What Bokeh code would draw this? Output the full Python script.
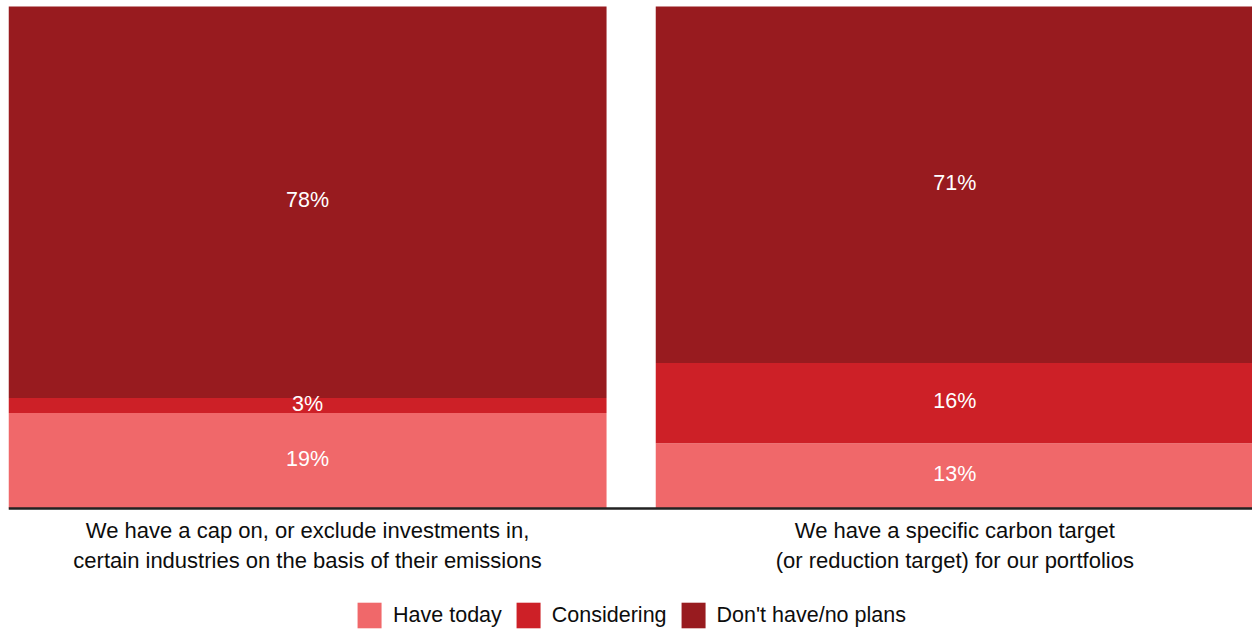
from bokeh.plotting import figure
from bokeh.models import ColumnDataSource, Range1d, Legend, LegendItem, Span
from bokeh.core.properties import value
from bokeh.embed import file_html
from bokeh.resources import INLINE

categories = [
    "We have a cap on, or exclude investments in,\ncertain industries on the basis of their emissions",
    "We have a specific carbon target\n(or reduction target) for our portfolios",
]
series_names = ["Have today", "Considering", "Don't have/no plans"]
have_today = [19, 13]
considering = [3, 16]
no_plans = [78, 71]
colors = ["#F0686A", "#CD2027", "#981B1F"]

FONT = "Liberation Sans"
xs = list(range(len(categories)))

src = ColumnDataSource(dict(x=xs, have=have_today, cons=considering, none=no_plans))

# frame covers the whole canvas; 0..100 maps to the bar area, negatives hold labels/legend
p = figure(width=1252, height=632, x_range=Range1d(-0.462, 1.46),
           y_range=Range1d(-124 / 502 * 100, 100 + 6 / 502 * 100),
           output_backend="svg", toolbar_location=None,
           min_border_left=8, min_border_right=0, min_border_top=0, min_border_bottom=0)
p.xaxis.visible = False
p.yaxis.visible = False
p.xgrid.visible = False
p.ygrid.visible = False
p.outline_line_color = None

rs = p.vbar_stack(["have", "cons", "none"], x="x", width=0.924, source=src,
                  color=colors, line_color=None)

# baseline (category axis line)
p.add_layout(Span(location=0, dimension="width", line_color="#222222", line_width=2.5))

# value labels
lx, ly, lt = [], [], []
for i in xs:
    base = 0
    for vals in (have_today, considering, no_plans):
        v = vals[i]
        lx.append(i)
        ly.append(base + v / 2)
        lt.append(f"{v}%")
        base += v
p.text(x=lx, y=ly, text=lt, text_color="white", text_font=value(FONT),
       text_font_size="21.5px", text_align="center", text_baseline="middle", y_offset=-2)

# category labels under the baseline
p.text(x=xs, y=[0] * len(xs), text=categories, text_color="#0d0d0d", text_font=value(FONT),
       text_font_size="22px", text_align="center", text_baseline="top",
       text_line_height=1.23, y_offset=9)

legend = Legend(items=[LegendItem(label=n, renderers=[r]) for n, r in zip(series_names, rs)],
                orientation="horizontal", location="bottom_center",
                glyph_width=30, glyph_height=32, label_text_font=FONT,
                label_text_font_size="21.5px", label_text_color="#0d0d0d",
                label_standoff=9, spacing=11, border_line_color=None,
                background_fill_alpha=0, padding=0, margin=1, label_height=32)
p.add_layout(legend, "center")

open("out.html", "w").write(file_html(p, INLINE))
